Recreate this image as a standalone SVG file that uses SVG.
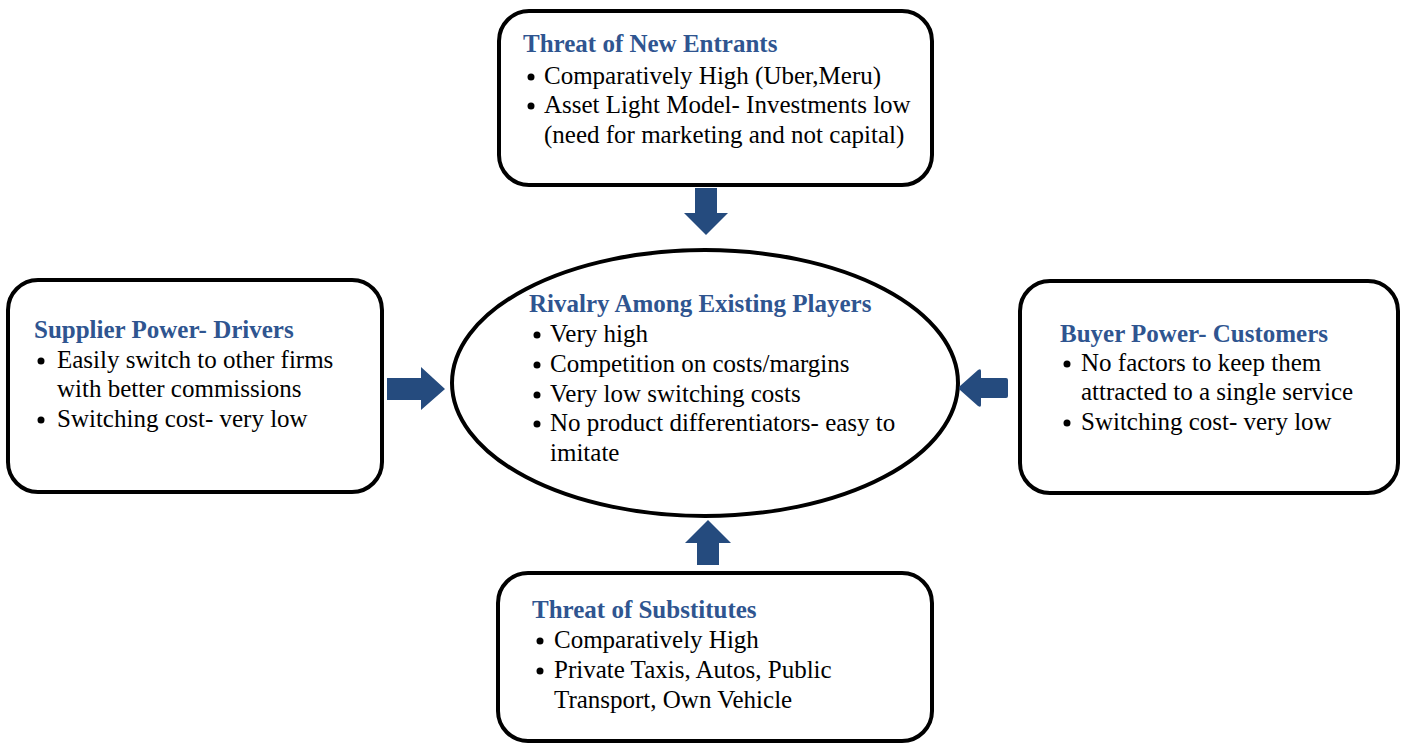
<svg xmlns="http://www.w3.org/2000/svg" width="1407" height="744" viewBox="0 0 1407 744">
  <style>
    .box { fill: #ffffff; stroke: #000000; stroke-width: 4; }
    .title { font-family: "Liberation Serif", "Times New Roman", serif; font-size: 25px; font-weight: bold; fill: #2f5590; }
    .body { font-family: "Liberation Serif", "Times New Roman", serif; font-size: 25px; fill: #000000; }
    .dot { fill: #000000; }
    .arrow { fill: #254b7e; }
  </style>
  <rect width="1407" height="744" fill="#ffffff"/>

  <!-- Threat of New Entrants -->
  <g id="new-entrants">
    <rect class="box" x="499" y="11" width="433" height="174" rx="30" ry="30"/>
    <text class="title" x="523" y="52">Threat of New Entrants</text>
    <circle class="dot" cx="531" cy="77" r="3.5"/>
    <text class="body" x="544" y="84">Comparatively High (Uber,Meru)</text>
    <circle class="dot" cx="531" cy="106" r="3.5"/>
    <text class="body" x="544" y="113">Asset Light Model- Investments low</text>
    <text class="body" x="544" y="143">(need for marketing and not capital)</text>
  </g>

  <!-- Supplier Power -->
  <g id="supplier-power">
    <rect class="box" x="8" y="280" width="374" height="212" rx="30" ry="30"/>
    <text class="title" x="34" y="338">Supplier Power- Drivers</text>
    <circle class="dot" cx="41" cy="361" r="3.5"/>
    <text class="body" x="57" y="368">Easily switch to other firms</text>
    <text class="body" x="57" y="397">with better commissions</text>
    <circle class="dot" cx="41" cy="420" r="3.5"/>
    <text class="body" x="57" y="427">Switching cost- very low</text>
  </g>

  <!-- Rivalry Among Existing Players -->
  <g id="rivalry">
    <ellipse class="box" cx="705" cy="383" rx="253" ry="133"/>
    <text class="title" x="529" y="312">Rivalry Among Existing Players</text>
    <circle class="dot" cx="537" cy="335" r="3.5"/>
    <text class="body" x="550" y="342">Very high</text>
    <circle class="dot" cx="537" cy="365" r="3.5"/>
    <text class="body" x="550" y="372">Competition on costs/margins</text>
    <circle class="dot" cx="537" cy="395" r="3.5"/>
    <text class="body" x="550" y="402">Very low switching costs</text>
    <circle class="dot" cx="537" cy="424" r="3.5"/>
    <text class="body" x="550" y="431">No product differentiators- easy to</text>
    <text class="body" x="550" y="461">imitate</text>
  </g>

  <!-- Buyer Power -->
  <g id="buyer-power">
    <rect class="box" x="1020" y="281" width="378" height="212" rx="30" ry="30"/>
    <text class="title" x="1060" y="342">Buyer Power- Customers</text>
    <circle class="dot" cx="1067" cy="364" r="3.5"/>
    <text class="body" x="1081" y="371">No factors to keep them</text>
    <text class="body" x="1081" y="400">attracted to a single service</text>
    <circle class="dot" cx="1067" cy="423" r="3.5"/>
    <text class="body" x="1081" y="430">Switching cost- very low</text>
  </g>

  <!-- Threat of Substitutes -->
  <g id="substitutes">
    <rect class="box" x="498" y="573" width="434" height="168" rx="30" ry="30"/>
    <text class="title" x="532" y="618">Threat of Substitutes</text>
    <circle class="dot" cx="540" cy="641" r="3.5"/>
    <text class="body" x="554" y="648">Comparatively High</text>
    <circle class="dot" cx="540" cy="671" r="3.5"/>
    <text class="body" x="554" y="678">Private Taxis, Autos, Public</text>
    <text class="body" x="554" y="708">Transport, Own Vehicle</text>
  </g>

  <!-- Block arrows pointing into the centre -->
  <g id="connectors">
    <polygon class="arrow" points="695,188 717,188 717,213 728,213 706,235 684,213 695,213"/>
    <polygon class="arrow" points="387,378 421,378 421,367 445,389 421,410 421,400 387,400"/>
    <path class="arrow" d="M1008,380 Q1008,378 1006,378 L981,378 L981,371 Q981,368 978,370 L960,386 Q958,388 960,390 L978,406 Q981,408 981,405 L981,398 L1006,398 Q1008,398 1008,396 Z"/>
    <polygon class="arrow" points="697,565 719,565 719,543 731,543 708,520 685,543 697,543"/>
  </g>
</svg>
